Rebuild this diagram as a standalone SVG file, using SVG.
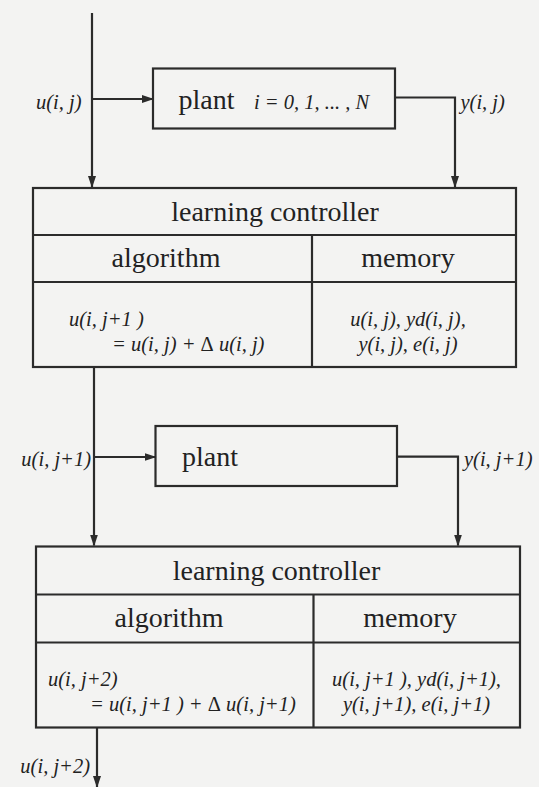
<svg xmlns="http://www.w3.org/2000/svg" width="539" height="787" viewBox="0 0 539 787">
<style>
.box{fill:none;stroke:#2b2b2b;stroke-width:2.2}
.ln{fill:none;stroke:#2b2b2b;stroke-width:2.2}
.t{font-family:"Liberation Serif","Times New Roman",serif;font-size:28px;fill:#222}
.i{font-family:"Liberation Serif","Times New Roman",serif;font-size:20.5px;font-style:italic;fill:#222}
.c{text-anchor:middle}
.e{text-anchor:end}
.up{font-style:normal}
</style>
<defs>
<marker id="ah" markerWidth="12" markerHeight="8" refX="11" refY="4" orient="auto" markerUnits="userSpaceOnUse">
<path d="M0,0 L12,4 L0,8 Z" fill="#2b2b2b"/>
</marker>
</defs>
<rect x="0" y="0" width="539" height="787" fill="#f3f3f2"/>

<g id="connectors">
<line class="ln" x1="92" y1="13" x2="92" y2="187" marker-end="url(#ah)"/>
<line class="ln" x1="92" y1="99" x2="153" y2="99" marker-end="url(#ah)"/>
<polyline class="ln" points="395,97.5 455,97.5 455,187" marker-end="url(#ah)"/>
<line class="ln" x1="94" y1="367" x2="94" y2="545.5" marker-end="url(#ah)"/>
<line class="ln" x1="94" y1="457" x2="155.5" y2="457" marker-end="url(#ah)"/>
<polyline class="ln" points="397,456.7 458,456.7 458,545.5" marker-end="url(#ah)"/>
<line class="ln" x1="97" y1="728" x2="97" y2="787" marker-end="url(#ah)"/>
<text class="i e" x="81.5" y="109">u(i, j)</text>
<text class="i" x="460.5" y="109">y(i, j)</text>
<text class="i e" x="91" y="466">u(i, j+1)</text>
<text class="i" x="464" y="466">y(i, j+1)</text>
<text class="i e" x="90" y="773">u(i, j+2)</text>
</g>

<g id="plant1">
<rect class="box" x="153" y="68.5" width="242" height="60"/>
<text class="t" x="178.5" y="109">plant</text>
<text class="i" x="254" y="109">i = 0, 1, ... , N</text>
</g>

<g id="controller1">
<rect class="box" x="33" y="188" width="483" height="179"/>
<line class="ln" x1="33" y1="235" x2="516" y2="235"/>
<line class="ln" x1="33" y1="282" x2="516" y2="282"/>
<line class="ln" x1="312" y1="235" x2="312" y2="367"/>
<text class="t c" x="275" y="221">learning controller</text>
<text class="t c" x="166" y="267">algorithm</text>
<text class="t c" x="408" y="267">memory</text>
<text class="i" x="69" y="325.5">u(i, j+1 )</text>
<text class="i" x="112" y="350.5">= u(i, j) + <tspan class="up">Δ</tspan> u(i, j)</text>
<text class="i c" x="408" y="325.5">u(i, j), yd(i, j),</text>
<text class="i c" x="408" y="350.5">y(i, j), e(i, j)</text>
</g>

<g id="plant2">
<rect class="box" x="155.5" y="426" width="241.5" height="60"/>
<text class="t" x="182" y="466">plant</text>
</g>

<g id="controller2">
<rect class="box" x="36" y="546.5" width="484" height="181"/>
<line class="ln" x1="36" y1="594.5" x2="520" y2="594.5"/>
<line class="ln" x1="36" y1="642.5" x2="520" y2="642.5"/>
<line class="ln" x1="313.5" y1="594.5" x2="313.5" y2="727.5"/>
<text class="t c" x="276.5" y="580">learning controller</text>
<text class="t c" x="169" y="627">algorithm</text>
<text class="t c" x="410" y="627">memory</text>
<text class="i" x="48" y="685.5">u(i, j+2)</text>
<text class="i" x="90" y="710.5">= u(i, j+1 ) + <tspan class="up">Δ</tspan> u(i, j+1)</text>
<text class="i c" x="416.5" y="685.5">u(i, j+1 ), yd(i, j+1),</text>
<text class="i c" x="416.5" y="710.5">y(i, j+1), e(i, j+1)</text>
</g>
</svg>
